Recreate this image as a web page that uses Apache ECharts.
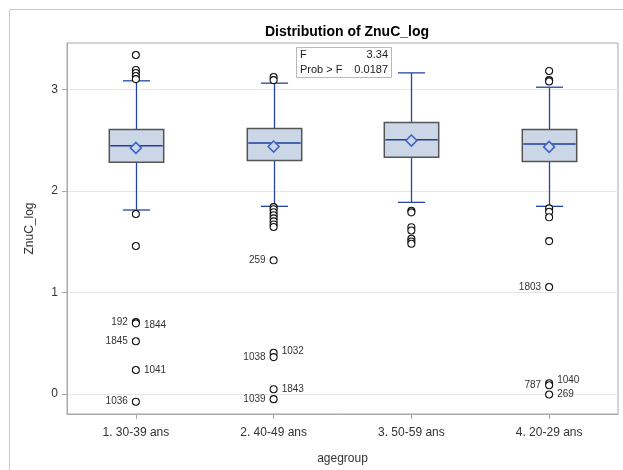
<!DOCTYPE html>
<html>
<head>
<meta charset="utf-8">
<script src="https://cdn.jsdelivr.net/npm/echarts@6/dist/echarts.min.js"></script>
<style>html,body{margin:0;padding:0;background:#fff}#c{width:623px;height:470px}</style>
</head>
<body>
<div id="c"></div>
<script>
const categories = ['1. 30-39 ans', '2. 40-49 ans', '3. 50-59 ans', '4. 20-29 ans'];
const boxMin    = [1.812, 1.848, 1.887, 1.848];
const boxQ1     = [2.283, 2.300, 2.332, 2.290];
const boxMedian = [2.443, 2.472, 2.504, 2.462];
const boxQ3     = [2.605, 2.615, 2.673, 2.605];
const boxMax    = [3.083, 3.060, 3.161, 3.020];
const groupMeans = [2.423, 2.436, 2.495, 2.433];

const outlierGroup = [0,0,0,0,0,0,0,0,0,0,0,0,
                      1,1,1,1,1,1,1,1,1,1,1,1,1,1,1,
                      2,2,2,2,2,2,2,
                      3,3,3,3,3,3,3,3,3,3,3,3];
const outlierValue = [3.337,3.19,3.16,3.13,3.10,1.773,1.458,0.709,0.697,0.521,0.238,-0.074,
                      3.12,3.09,1.84,1.82,1.79,1.76,1.73,1.70,1.67,1.645,1.317,0.407,0.365,0.049,-0.049,
                      1.805,1.789,1.643,1.610,1.529,1.502,1.480,
                      3.18,3.09,3.077,1.828,1.795,1.740,1.506,1.054,0.107,0.088,-0.003];
const outlierLabel = ['','','','','','','','192','1844','1845','1041','1036',
                      '','','','','','','','','','','259','1032','1038','1843','1039',
                      '','','','','','','',
                      '','','','','','','','1803','1040','787','269'];
const labelRight = {'1844':1,'1041':1,'1032':1,'1843':1,'1040':1,'269':1};

const yTicks = [0, 1, 2, 3];
const statF = '3.34';
const statP = '0.0187';

const boxData = categories.map((c, i) => [i, boxMin[i], boxQ1[i], boxMedian[i], boxQ3[i], boxMax[i]]);
const meanData = categories.map((c, i) => [i, groupMeans[i]]);
const outlierData = outlierValue.map((v, i) => {
  const lab = outlierLabel[i];
  const item = { value: [outlierGroup[i], v] };
  if (lab) {
    const right = !!labelRight[lab];
    item.label = { show: true, formatter: lab, position: right ? 'right' : 'left', distance: 4,
      offset: lab === '1844' ? [0, 2] : (lab === '1040' ? [0, -3] : (lab === '1032' ? [0, -2] : [0, 0])) };
  }
  return item;
});

const FONT = '"Liberation Sans", Arial, sans-serif';
const chart = echarts.init(document.getElementById('c'), null, { renderer: 'canvas' });
chart.setOption({
  animation: false,
  backgroundColor: '#fff',
  textStyle: { fontFamily: FONT },
  title: {
    text: 'Distribution of ZnuC_log', left: 342, top: 20, textAlign: 'center',
    textStyle: { fontFamily: FONT, fontSize: 14, fontWeight: 'bold', color: '#000' }
  },
  graphic: [
    { type: 'rect', shape: { x: 9.5, y: 9.5, width: 700, height: 600 }, style: { fill: 'none', stroke: '#c8c8c8', lineWidth: 1 }, z: -10 },
    { type: 'rect', shape: { x: 296.5, y: 47.5, width: 95, height: 30 }, style: { fill: '#fff', stroke: '#b8b8b8', lineWidth: 1 }, z: 100 },
    { type: 'text', left: 300, top: 49, style: { text: 'F', font: '11px ' + FONT, fill: '#222' }, z: 101 },
    { type: 'text', right: 623 - 388, top: 49, style: { text: statF, font: '11px ' + FONT, fill: '#222' }, z: 101 },
    { type: 'text', left: 300, top: 64, style: { text: 'Prob > F', font: '11px ' + FONT, fill: '#222' }, z: 101 },
    { type: 'text', right: 623 - 388, top: 64, style: { text: statP, font: '11px ' + FONT, fill: '#222' }, z: 101 }
  ],
  grid: { left: 67, right: 5, top: 43, bottom: 53, show: true, borderColor: '#a8a8a8', borderWidth: 1, backgroundColor: 'transparent' },
  xAxis: {
    type: 'category', data: categories, boundaryGap: true,
    name: 'agegroup', nameLocation: 'middle', nameGap: 39,
    nameTextStyle: { fontFamily: FONT, fontSize: 12, color: '#333' },
    axisLine: { show: true, onZero: false, lineStyle: { color: '#a8a8a8' } },
    axisTick: { show: true, alignWithLabel: true, length: 5, lineStyle: { color: '#a8a8a8' } },
    axisLabel: { fontFamily: FONT, fontSize: 12, color: '#333', margin: 13 },
    splitLine: { show: false }
  },
  yAxis: {
    type: 'value', min: -0.195, max: 3.455,
    name: 'ZnuC_log', nameLocation: 'middle', nameGap: 31,
    nameTextStyle: { fontFamily: FONT, fontSize: 12, color: '#333' },
    axisLine: { show: true, onZero: false, lineStyle: { color: '#a8a8a8' } },
    axisTick: { show: true, length: 5, customValues: yTicks, lineStyle: { color: '#a8a8a8' } },
    axisLabel: { fontFamily: FONT, fontSize: 12, color: '#333', margin: 9, customValues: yTicks },
    splitLine: { show: true, lineStyle: { color: '#e6e6e6', width: 1 } }
  },
  series: [
    {
      type: 'custom', data: boxData, z: 2,
      renderItem: function (params, api) {
        const xi = api.value(0);
        const lo = api.coord([xi, api.value(1)]);
        const q1 = api.coord([xi, api.value(2)]);
        const md = api.coord([xi, api.value(3)]);
        const q3 = api.coord([xi, api.value(4)]);
        const hi = api.coord([xi, api.value(5)]);
        const band = api.size([1, 0])[0];
        const bw = band * 0.395, cw = band * 0.197;
        const cx = Math.round(lo[0]) + 0.5;
        const wl = { stroke: '#2446a0', lineWidth: 1.3 };
        return {
          type: 'group', children: [
            { type: 'line', shape: { x1: cx, y1: hi[1], x2: cx, y2: q3[1] }, style: wl },
            { type: 'line', shape: { x1: cx, y1: q1[1], x2: cx, y2: lo[1] }, style: wl },
            { type: 'line', shape: { x1: cx - cw / 2, y1: hi[1], x2: cx + cw / 2, y2: hi[1] }, style: wl },
            { type: 'line', shape: { x1: cx - cw / 2, y1: lo[1], x2: cx + cw / 2, y2: lo[1] }, style: wl },
            { type: 'rect', shape: { x: cx - bw / 2, y: q3[1], width: bw, height: q1[1] - q3[1] },
              style: { fill: '#cbd6e6', stroke: '#555', lineWidth: 1.5 } },
            { type: 'line', shape: { x1: cx - bw / 2 + 1, y1: md[1], x2: cx + bw / 2 - 1, y2: md[1] },
              style: { stroke: '#1f3f9c', lineWidth: 1.5 } }
          ]
        };
      }
    },
    {
      type: 'scatter', data: meanData, z: 5, symbol: 'diamond', symbolSize: 11,
      itemStyle: { color: '#cbd6e6', borderColor: '#3b62c4', borderWidth: 1.5, opacity: 1 }
    },
    {
      type: 'scatter', data: outlierData, z: 4, symbol: 'circle', symbolSize: 7,
      itemStyle: { color: '#fff', borderColor: '#111', borderWidth: 1.1, opacity: 1 },
      label: { show: false, fontFamily: FONT, fontSize: 10, color: '#333' },
      emphasis: { disabled: true }
    }
  ]
});
</script>
</body>
</html>
